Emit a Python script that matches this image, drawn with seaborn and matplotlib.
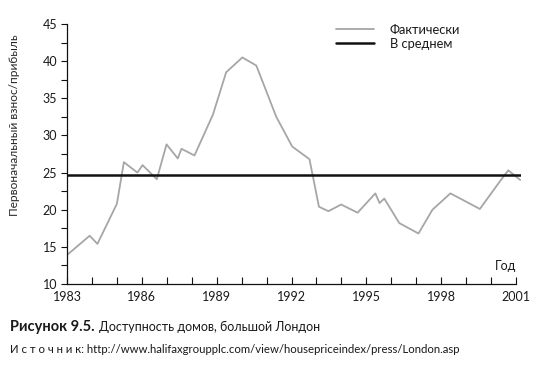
import numpy as np
import pandas as pd
import matplotlib
matplotlib.use("Agg")
import matplotlib.pyplot as plt
import seaborn as sns
from matplotlib.ticker import MultipleLocator

years = [1983.0, 1983.91, 1984.22, 1985.0, 1985.28, 1985.82, 1986.03, 1986.6,
         1986.99, 1987.44, 1987.59, 1988.11, 1988.85, 1989.38, 1990.03, 1990.59,
         1991.39, 1992.03, 1992.72, 1993.1, 1993.48, 1993.99, 1994.65, 1995.36,
         1995.53, 1995.72, 1996.32, 1997.09, 1997.65, 1998.37, 1999.55, 2000.35,
         2000.69, 2001.17]
actual = [13.9, 16.5, 15.4, 20.8, 26.4, 25.0, 26.0, 24.1,
          28.8, 26.9, 28.2, 27.3, 32.8, 38.5, 40.5, 39.4,
          32.5, 28.5, 26.8, 20.4, 19.8, 20.7, 19.6, 22.2,
          20.9, 21.5, 18.2, 16.8, 20.0, 22.2, 20.1, 23.8,
          25.3, 24.0]
average_value = 24.7
x_ticks = [1983, 1986, 1989, 1992, 1995, 1998, 2001]
y_ticks = [10, 15, 20, 25, 30, 35, 40, 45]

sns.set_style("ticks")
plt.rcParams['font.family'] = ['Lato', 'DejaVu Sans']
plt.rcParams['text.color'] = '#1a1a1a'

df = pd.DataFrame({"year": years, "value": actual})
avg_df = pd.DataFrame({"year": [1983.0, 2001.2], "value": [average_value] * 2})

fig = plt.figure(figsize=(5.55, 3.67), dpi=100)
ax = fig.add_axes([67 / 555, 1 - 284 / 367, (521 - 67) / 555, (284 - 24) / 367])

sns.lineplot(data=df, x="year", y="value", ax=ax, color="#a6a6a6", linewidth=1.3,
             label="Фактически")
sns.lineplot(data=avg_df, x="year", y="value", ax=ax, color="#111111", linewidth=1.8,
             label="В среднем")

ax.set_xlim(1983, 2001.2)
ax.set_ylim(10, 45)
ax.set_xticks(x_ticks)
ax.set_xticklabels([str(t) for t in x_ticks], fontsize=9)
ax.xaxis.set_minor_locator(MultipleLocator(1))
ax.set_yticks(y_ticks)
ax.set_yticklabels([str(t) for t in y_ticks], fontsize=9)
ax.yaxis.set_minor_locator(MultipleLocator(2.5))
ax.tick_params(axis="x", which="both", direction="in", length=5, width=0.8, pad=5,
               color="#111", labelcolor="#1a1a1a")
ax.tick_params(axis="y", which="both", direction="out", length=4, width=0.8, pad=3,
               color="#111", labelcolor="#1a1a1a")
for s in ["top", "right"]:
    ax.spines[s].set_visible(False)
ax.spines["bottom"].set_bounds(1983, 2001)
ax.spines["left"].set_linewidth(0.9)
ax.spines["bottom"].set_linewidth(0.9)
ax.spines["left"].set_color("#111")
ax.spines["bottom"].set_color("#111")
ax.set_xlabel("")
ax.set_ylabel("Первоначальный взнос/прибыль", fontsize=8.6)
ax.yaxis.set_label_coords(-0.104, 0.61)
ax.text(2001.0, 11.6, "Год", fontsize=9, ha="right", va="bottom")

leg = ax.legend(loc="upper left", bbox_to_anchor=(0.566, 1.045), frameon=False,
                fontsize=9.3, handlelength=3.0, handletextpad=1.2, labelspacing=0.15)

caption_y = 1 - 331 / 367
bold = fig.text(10 / 555, caption_y, "Рисунок 9.5.", fontsize=10.5, fontweight="bold",
                va="baseline", ha="left")
fig.canvas.draw()
bb = bold.get_window_extent()
fig.text((bb.x1 + 4) / fig.bbox.width, caption_y, "Доступность домов, большой Лондон",
         fontsize=9.0, va="baseline", ha="left")
fig.text(10 / 555, 1 - 353 / 367,
         "И с т о ч н и к: http://www.halifaxgroupplc.com/view/housepriceindex/press/London.asp",
         fontsize=8.2, va="baseline", ha="left")

fig.savefig("out.png", dpi=100)
